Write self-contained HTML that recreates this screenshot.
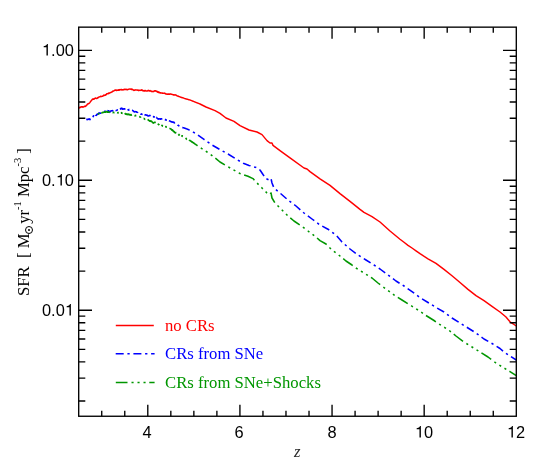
<!DOCTYPE html>
<html><head><meta charset="utf-8"><title>SFR</title>
<style>
html,body{margin:0;padding:0;background:#fff;}
body{width:550px;height:472px;overflow:hidden;position:relative;font-family:"Liberation Sans",sans-serif;}
svg{position:absolute;left:0;top:0;}
.t,.s{will-change:transform;}
.t{position:absolute;white-space:nowrap;color:#000;font-family:"Liberation Sans",sans-serif;font-size:16.4px;line-height:16px;}
.s{position:absolute;white-space:nowrap;font-family:"Liberation Serif",serif;font-size:16.7px;line-height:16px;}
</style></head><body>
<svg width="550" height="472" viewBox="0 0 550 472">
<rect x="0" y="0" width="550" height="472" fill="#fff"/>
<polyline fill="none" stroke="#ff0000" stroke-width="1.45" stroke-linejoin="round" points="78.60,108.34 78.80,107.80 79.00,107.83 79.20,107.96 79.40,107.70 79.60,107.56 79.80,107.17 80.00,107.35 80.20,107.42 80.40,107.41 80.60,107.21 80.80,106.96 81.00,106.86 81.20,106.62 81.40,106.72 81.60,107.03 81.80,106.87 82.00,106.72 82.20,107.11 82.40,106.71 82.60,107.14 82.80,106.94 83.00,106.99 83.20,106.98 83.40,106.88 83.60,106.97 83.80,106.75 84.00,106.65 84.20,106.55 84.41,106.32 84.62,106.33 84.83,106.47 85.03,106.34 85.24,106.32 85.45,106.41 85.66,106.03 85.87,105.90 86.08,105.52 86.28,105.49 86.49,105.66 86.70,105.24 86.91,104.92 87.12,104.76 87.33,104.22 87.53,104.14 87.74,103.92 87.95,103.67 88.16,103.95 88.37,103.85 88.58,103.56 88.78,103.51 88.99,103.19 89.20,103.27 89.41,103.05 89.62,102.90 89.83,102.64 90.04,102.24 90.26,101.89 90.47,101.53 90.68,101.31 90.89,101.20 91.10,100.87 91.29,100.58 91.48,100.60 91.67,100.24 91.86,99.94 92.05,99.69 92.24,99.52 92.43,99.18 92.62,99.09 92.81,99.19 93.00,98.98 93.20,99.01 93.40,99.20 93.60,98.98 93.80,99.17 94.00,98.97 94.20,99.08 94.40,98.82 94.60,98.40 94.80,98.71 95.00,98.40 95.20,98.08 95.40,98.31 95.60,98.24 95.80,98.06 96.00,98.18 96.20,98.37 96.40,98.51 96.60,98.50 96.80,98.53 97.00,98.54 97.20,98.06 97.40,98.16 97.60,98.14 97.80,97.59 98.00,97.92 98.20,97.78 98.40,97.39 98.60,97.29 98.80,97.05 99.00,97.10 99.20,97.01 99.40,96.93 99.60,96.71 99.80,96.82 100.00,96.63 100.20,96.73 100.40,96.56 100.60,96.30 100.80,96.29 101.00,96.49 101.20,96.40 101.40,96.52 101.60,96.55 101.80,96.43 102.00,96.18 102.20,96.14 102.40,96.28 102.60,95.94 102.80,96.13 103.00,95.85 103.20,95.83 103.40,95.53 103.60,95.53 103.80,95.09 104.00,95.43 104.20,95.50 104.40,95.26 104.60,95.22 104.80,95.29 105.00,95.27 105.20,95.08 105.40,95.14 105.60,94.67 105.80,94.91 106.00,94.41 106.20,94.34 106.40,94.50 106.60,94.03 106.80,93.79 107.00,93.96 107.20,93.74 107.40,93.64 107.60,93.63 107.80,93.55 108.00,93.45 108.20,93.37 108.40,93.66 108.60,93.28 108.80,93.45 109.00,93.05 109.20,93.26 109.40,92.94 109.60,92.99 109.80,93.08 110.00,92.85 110.20,92.55 110.40,92.65 110.60,92.60 110.80,92.60 111.00,92.28 111.20,92.28 111.40,92.23 111.60,91.89 111.80,91.99 112.00,91.78 112.20,91.85 112.40,91.66 112.60,91.54 112.80,91.12 113.00,91.33 113.20,91.18 113.40,90.96 113.60,90.89 113.80,90.65 114.00,90.71 114.20,90.64 114.40,90.50 114.60,90.21 114.80,90.38 115.00,90.23 115.20,90.01 115.40,90.15 115.60,89.97 115.80,90.21 116.00,90.36 116.20,90.47 116.40,90.26 116.60,90.02 116.80,90.20 117.00,90.37 117.20,90.15 117.40,90.26 117.60,90.15 117.80,90.21 118.00,90.03 118.20,89.85 118.40,89.99 118.60,90.28 118.80,89.85 119.00,89.65 119.20,90.20 119.40,89.96 119.60,89.81 119.80,89.76 120.00,89.57 120.20,89.86 120.40,89.75 120.60,89.62 120.80,89.62 121.00,89.59 121.20,89.77 121.40,89.62 121.60,89.87 121.80,89.58 122.00,89.64 122.20,89.69 122.40,89.71 122.60,89.80 122.80,89.98 123.00,89.95 123.20,89.58 123.40,89.85 123.60,89.64 123.80,89.79 124.00,89.49 124.20,89.34 124.40,89.52 124.60,89.50 124.80,89.35 125.00,89.42 125.20,89.44 125.40,89.48 125.60,89.20 125.80,89.29 126.00,89.47 126.20,89.52 126.40,89.43 126.60,89.27 126.80,89.73 127.00,89.51 127.20,89.43 127.40,89.82 127.60,89.77 127.80,89.69 128.00,89.59 128.20,89.48 128.40,89.20 128.60,89.27 128.80,89.24 129.00,89.21 129.20,89.12 129.40,88.94 129.60,89.02 129.80,89.09 130.00,89.13 130.20,89.08 130.40,88.99 130.60,89.12 130.80,89.38 131.00,89.35 131.20,89.44 131.40,89.11 131.60,89.33 131.80,89.52 132.00,89.13 132.20,89.27 132.40,89.20 132.60,89.72 132.80,89.67 133.00,89.70 133.20,89.91 133.40,90.00 133.60,90.25 133.80,90.40 134.00,90.48 134.20,90.33 134.40,90.33 134.60,90.27 134.80,90.25 135.00,89.76 135.20,90.00 135.40,89.90 135.60,89.85 135.80,89.85 136.00,89.92 136.20,90.05 136.40,90.06 136.60,90.10 136.80,89.98 137.00,90.00 137.20,90.12 137.40,90.00 137.60,90.19 137.80,90.17 138.00,90.05 138.20,90.05 138.40,90.28 138.60,90.28 138.80,90.68 139.00,90.48 139.20,90.24 139.40,90.26 139.60,90.17 139.80,90.19 140.00,90.23 140.20,90.26 140.40,90.16 140.60,90.33 140.80,90.28 141.00,90.43 141.20,89.94 141.40,90.19 141.60,90.01 141.80,89.81 142.00,89.96 142.20,89.89 142.40,90.24 142.60,90.75 142.80,90.67 143.00,90.86 143.20,90.89 143.40,90.63 143.60,91.03 143.80,90.95 144.00,90.96 144.20,90.72 144.40,90.55 144.60,91.09 144.80,90.93 145.00,90.77 145.20,90.61 145.40,90.76 145.60,90.61 145.80,90.97 146.00,90.91 146.20,90.92 146.40,90.94 146.60,91.04 146.80,91.12 147.00,90.97 147.20,91.09 147.40,90.91 147.60,90.80 147.80,90.62 148.00,90.83 148.20,90.77 148.40,90.61 148.60,90.30 148.80,90.55 149.00,90.79 149.20,90.69 149.40,90.91 149.60,90.71 149.80,90.93 150.00,90.93 150.20,90.59 150.40,90.95 150.60,91.05 150.80,91.08 151.00,91.11 151.20,91.54 151.40,91.37 151.60,91.58 151.80,91.29 152.00,91.21 152.20,91.44 152.40,91.58 152.60,91.44 152.80,91.63 153.00,91.68 153.20,91.52 153.40,91.48 153.60,91.28 153.80,91.43 154.00,91.43 154.20,91.15 154.40,90.91 154.60,90.78 154.80,90.74 155.00,90.91 155.20,90.73 155.40,91.10 155.60,90.78 155.80,91.00 156.00,91.24 156.20,91.36 156.40,91.11 156.60,91.38 156.80,91.73 157.00,91.65 157.20,91.29 157.40,91.74 157.60,92.14 157.80,91.76 158.00,92.15 158.20,91.82 158.40,92.42 158.60,92.17 158.80,92.49 159.00,92.59 159.20,92.16 159.40,92.43 159.60,92.77 159.80,92.54 160.00,92.78 160.20,92.67 160.40,93.01 160.60,92.77 160.80,92.73 161.00,92.96 161.20,93.05 161.40,92.91 161.60,93.02 161.80,93.09 162.00,93.00 162.20,92.96 162.40,93.23 162.60,93.16 162.80,93.07 163.00,93.35 163.20,93.29 163.40,93.25 163.60,93.13 163.80,93.19 164.00,93.29 164.20,93.27 164.40,93.10 164.60,93.19 164.80,93.44 165.00,93.51 165.20,93.67 165.40,93.52 165.60,93.84 165.80,94.02 166.00,94.01 166.20,93.96 166.40,94.09 166.60,93.88 166.80,94.02 167.00,94.35 167.20,93.98 167.40,94.07 167.60,94.33 167.80,94.15 168.00,94.14 168.20,94.06 168.40,94.34 168.60,94.08 168.80,94.09 169.00,93.91 169.20,94.16 169.40,94.08 169.60,94.14 169.80,94.24 170.00,94.10 170.20,93.97 170.40,93.99 170.60,94.10 170.80,94.22 171.00,94.03 171.20,94.17 171.40,94.23 171.60,94.35 171.80,94.25 172.00,94.41 172.20,94.50 172.40,94.48 172.60,94.54 172.80,94.67 173.00,94.73 173.20,94.86 173.40,94.72 173.60,94.98 173.80,94.92 174.00,94.91 174.20,94.93 174.40,94.84 174.60,94.90 174.80,94.97 175.00,94.67 175.20,94.79 175.40,94.97 175.60,94.91 175.80,95.11 176.00,95.07 176.20,95.28 176.40,95.21 176.60,95.46 176.80,95.69 177.00,95.84 177.20,95.98 177.40,95.92 177.60,95.93 177.80,96.03 178.00,95.99 178.20,96.27 178.40,96.32 178.60,96.25 178.80,96.49 179.00,96.38 179.20,96.60 179.40,96.61 179.60,96.65 179.80,96.88 180.00,96.88 180.20,97.10 180.40,97.05 180.60,97.17 180.80,97.19 181.00,97.29 181.20,97.30 181.40,97.44 181.60,97.49 181.80,97.52 182.00,97.56 182.20,97.74 182.40,97.66 182.60,97.74 182.80,97.86 183.00,97.89 183.20,97.88 183.40,98.01 183.60,98.06 183.80,98.12 184.00,98.25 184.20,98.27 184.40,98.38 184.60,98.42 184.80,98.61 185.00,98.61 185.20,98.71 185.40,98.75 185.60,98.81 185.80,98.83 186.00,98.91 186.20,98.93 186.40,98.89 186.60,99.03 186.80,99.03 187.00,99.17 187.20,99.21 187.40,99.26 187.60,99.26 187.80,99.34 188.00,99.44 188.20,99.53 188.40,99.56 188.60,99.70 188.80,99.71 189.00,99.74 189.20,99.77 189.40,99.83 189.60,99.89 189.80,99.93 190.00,99.99 190.20,100.09 190.40,100.12 190.60,100.23 190.80,100.33 191.00,100.37 191.20,100.46 191.40,100.54 191.60,100.61 191.80,100.72 192.00,100.79 192.20,100.89 192.40,100.96 192.60,101.04 192.80,101.13 193.00,101.20 193.20,101.27 193.40,101.37 193.60,101.44 193.80,101.52 194.00,101.58 194.20,101.67 194.40,101.75 194.60,101.83 194.80,101.91 195.00,102.00 195.20,102.08 195.40,102.16 195.60,102.24 195.80,102.32 196.00,102.40 196.20,102.48 196.40,102.56 196.60,102.64 196.80,102.72 197.00,102.80 197.20,102.88 197.40,102.96 197.60,103.04 197.80,103.12 198.00,103.20 198.20,103.28 198.40,103.36 198.60,103.44 198.80,103.52 199.00,103.60 199.20,103.68 199.40,103.76 199.60,103.84 199.80,103.92 200.00,104.00 206.00,107.00 215.00,110.60 220.00,113.40 226.00,118.00 234.00,121.40 240.00,125.60 249.00,130.00 257.00,132.00 262.00,134.60 267.00,140.60 270.00,143.00 272.00,143.00 273.00,145.40 280.00,150.60 290.00,157.80 304.00,168.00 307.00,169.00 310.00,171.60 320.00,178.80 330.00,185.40 340.00,193.60 350.00,201.40 360.00,209.40 364.00,212.40 372.00,216.60 380.00,222.00 390.00,231.00 400.00,239.20 404.00,242.30 408.00,245.30 412.00,248.00 416.00,250.80 420.00,253.70 428.00,258.80 436.00,263.40 444.00,269.40 452.00,275.70 460.00,282.50 468.00,289.40 476.00,295.60 484.00,300.70 492.00,306.30 500.00,312.00 506.00,317.00 510.00,321.80 516.30,326.00"/>
<polyline fill="none" stroke="#0000ff" stroke-width="1.55" stroke-dasharray="8 3.7 2.3 3.7" stroke-dashoffset="2" stroke-linejoin="round" points="86.40,119.24 86.61,119.38 86.81,119.28 87.02,119.74 87.22,119.57 87.43,119.54 87.63,119.24 87.84,119.41 88.04,119.25 88.25,119.30 88.45,119.11 88.66,119.19 88.86,119.01 89.06,119.14 89.27,119.37 89.47,118.91 89.68,118.97 89.89,119.30 90.09,119.39 90.30,119.25 90.50,119.45 90.71,119.29 90.92,119.12 91.12,119.02 91.33,118.46 91.54,118.44 91.75,118.13 91.96,117.76 92.17,117.72 92.38,117.20 92.58,116.87 92.79,116.98 93.00,116.33 93.19,116.56 93.39,116.24 93.59,115.77 93.78,115.49 93.97,115.06 94.17,115.42 94.37,115.23 94.56,115.80 94.75,115.33 94.95,115.67 95.15,115.28 95.34,115.72 95.53,116.04 95.73,115.66 95.93,115.42 96.12,115.30 96.31,115.26 96.51,115.17 96.71,114.81 96.90,114.34 97.11,114.52 97.32,114.46 97.53,114.53 97.74,114.04 97.95,113.90 98.16,113.64 98.37,113.70 98.58,113.72 98.79,113.13 99.00,113.21 99.20,113.01 99.40,113.05 99.60,113.11 99.80,113.20 100.00,112.97 100.20,113.04 100.40,113.29 100.60,113.08 100.80,113.05 101.00,112.94 101.20,112.79 101.40,112.83 101.60,112.78 101.80,112.63 102.00,112.74 102.20,112.51 102.40,112.58 102.60,112.37 102.80,112.42 103.00,112.13 103.20,112.08 103.40,111.92 103.60,112.23 103.80,112.02 104.00,111.88 104.20,111.85 104.40,111.52 104.60,111.57 104.80,111.38 105.00,111.06 105.20,111.27 105.40,111.19 105.60,111.59 105.80,111.26 106.00,111.31 106.20,111.59 106.40,111.46 106.60,111.27 106.80,111.54 107.00,111.30 107.20,111.61 107.40,111.08 107.60,111.04 107.80,110.63 108.00,110.88 108.20,111.21 108.40,110.80 108.60,110.76 108.80,111.07 109.00,111.07 109.20,111.22 109.40,111.73 109.60,111.75 109.80,111.79 110.00,111.90 110.20,111.36 110.40,111.07 110.60,111.38 110.80,111.19 111.00,111.01 111.20,110.86 111.40,110.87 111.60,110.72 111.80,110.70 112.00,110.76 112.20,110.66 112.40,110.64 112.60,110.93 112.80,110.68 113.00,111.05 113.20,110.84 113.40,110.72 113.60,110.87 113.80,110.58 114.00,110.61 114.20,110.56 114.40,110.59 114.60,110.67 114.80,110.88 115.00,110.60 115.20,110.32 115.40,110.33 115.60,110.14 115.80,110.53 116.00,110.53 116.20,110.42 116.40,110.39 116.60,110.37 116.80,110.30 117.00,110.28 117.20,110.16 117.40,109.92 117.60,110.18 117.80,110.19 118.00,109.66 118.20,109.88 118.40,109.73 118.60,109.99 118.80,109.86 119.00,110.13 119.20,110.08 119.40,109.82 119.60,109.81 119.80,109.59 120.00,109.58 120.20,109.14 120.40,109.17 120.60,108.67 120.80,108.87 121.00,108.58 121.20,108.12 121.40,108.28 121.60,108.53 121.80,108.66 122.00,108.25 122.20,108.85 122.40,109.16 122.60,108.95 122.80,108.91 123.00,109.29 123.20,109.09 123.40,109.05 123.60,109.08 123.80,108.75 124.00,108.80 124.20,108.76 124.40,108.79 124.60,108.95 124.80,108.86 125.00,109.31 125.20,109.16 125.40,109.24 125.60,108.86 125.80,109.12 126.00,109.15 126.20,109.32 126.40,109.48 126.60,109.39 126.80,109.49 127.00,109.91 127.20,110.23 127.40,110.32 127.60,110.05 127.80,109.90 128.00,110.00 128.20,109.98 128.40,110.12 128.60,109.74 128.80,109.59 129.00,109.81 129.20,109.50 129.40,109.58 129.60,109.91 129.80,109.90 130.00,109.87 130.20,110.10 130.40,110.18 130.60,110.32 130.80,110.34 131.00,110.55 131.20,110.39 131.40,110.34 131.60,110.60 131.80,110.27 132.00,110.53 132.20,110.50 132.40,110.35 132.60,110.59 132.80,110.48 133.00,110.92 133.20,110.88 133.40,111.07 133.60,111.41 133.80,111.41 134.00,111.72 134.20,111.75 134.40,111.85 134.60,111.74 134.80,111.84 135.00,111.54 135.20,111.59 135.40,111.75 135.60,111.82 135.80,111.77 136.00,111.68 136.20,111.66 136.40,111.75 136.60,112.15 136.80,111.88 137.00,112.06 137.20,112.27 137.40,112.46 137.60,112.50 137.80,113.16 138.00,113.08 138.20,113.33 138.40,113.63 138.60,113.68 138.80,114.06 139.00,113.93 139.20,113.81 139.40,113.79 139.60,114.01 139.80,113.96 140.00,113.92 140.20,113.87 140.40,113.90 140.60,114.10 140.80,114.19 141.00,114.01 141.20,114.13 141.40,113.82 141.60,113.97 141.80,114.08 142.00,114.08 142.20,114.41 142.40,114.04 142.60,114.52 142.80,114.63 143.00,114.94 143.20,114.57 143.40,114.78 143.60,115.00 143.80,114.90 144.00,114.58 144.20,114.66 144.40,114.52 144.60,114.70 144.80,114.78 145.00,114.87 145.20,114.73 145.40,114.85 145.60,114.94 145.80,114.71 146.00,115.01 146.20,115.13 146.40,115.01 146.60,114.95 146.80,115.19 147.00,115.30 147.20,115.50 147.40,115.21 147.60,115.55 147.80,116.04 148.00,116.03 148.20,115.91 148.40,116.00 148.60,115.95 148.80,115.78 149.00,115.81 149.20,115.83 149.40,115.59 149.60,115.72 149.80,115.72 150.00,115.42 150.20,115.70 150.40,115.67 150.60,116.07 150.80,116.24 151.00,116.27 151.20,116.51 151.40,116.73 151.60,116.90 151.80,116.54 152.00,116.67 152.20,116.46 152.40,116.36 152.60,116.79 152.80,116.71 153.00,116.76 153.20,116.65 153.40,116.57 153.60,116.80 153.80,116.81 154.00,117.23 154.20,116.77 154.40,117.33 154.60,117.30 154.80,117.62 155.00,117.70 155.20,117.40 155.40,117.72 155.60,117.67 155.80,117.25 156.00,117.79 156.20,117.31 156.40,117.28 156.60,117.81 156.80,117.71 157.00,118.02 157.20,118.14 157.40,118.15 157.60,118.73 157.80,118.88 158.00,118.82 158.20,119.07 158.40,118.84 158.60,118.90 158.80,118.83 159.00,118.69 159.20,118.86 159.40,118.78 159.60,119.02 159.80,118.96 160.00,118.83 160.20,119.11 160.40,118.95 160.60,119.17 160.80,118.80 161.00,118.79 161.20,118.71 161.40,118.85 161.60,118.77 161.80,118.79 162.00,119.05 162.20,118.88 162.40,118.64 162.60,118.78 162.80,118.66 163.00,118.74 163.20,118.84 163.40,118.97 163.60,119.15 163.80,119.29 164.00,119.22 164.20,119.17 164.40,119.38 164.60,119.42 164.80,119.48 165.00,119.40 165.20,119.64 165.40,119.44 165.60,120.00 165.80,119.99 166.00,120.06 166.20,119.79 166.40,119.98 166.60,120.15 166.80,119.91 167.00,119.78 167.20,119.93 167.40,119.60 167.60,120.10 167.80,120.12 168.00,119.92 168.20,120.34 168.40,120.50 168.60,120.52 168.80,120.61 169.00,120.83 169.20,120.76 169.40,121.04 169.60,120.91 169.80,120.95 170.00,121.10 170.20,121.11 170.40,121.42 170.60,121.36 170.80,121.62 171.00,121.65 171.20,121.87 171.40,121.93 171.60,121.66 171.80,121.75 172.00,121.80 172.20,121.78 172.40,122.14 172.60,122.14 172.80,122.02 173.00,121.94 173.20,122.11 173.40,122.26 173.60,122.51 173.80,122.24 174.00,122.63 174.20,122.41 174.40,122.74 174.60,122.68 174.80,122.88 175.00,122.78 175.20,123.29 175.40,123.40 175.60,123.46 175.80,123.46 176.00,123.80 176.20,123.91 176.40,123.88 176.60,124.20 176.80,124.25 177.00,124.27 177.20,124.42 177.40,124.44 177.60,124.91 177.80,125.11 178.00,125.17 178.20,125.24 178.40,125.43 178.60,125.67 178.80,125.79 179.00,126.00 179.20,126.02 179.40,126.29 179.60,126.43 179.80,126.41 180.00,126.51 180.20,126.39 180.40,126.67 180.60,126.81 180.80,126.81 181.00,127.07 181.20,127.05 181.40,127.12 181.60,127.36 181.80,127.43 182.00,127.36 182.20,127.49 182.40,127.49 182.60,127.59 182.80,127.66 183.00,127.66 183.20,127.74 183.40,127.82 183.60,127.79 183.80,127.80 184.00,127.88 184.20,128.04 184.40,128.14 184.60,128.11 184.80,128.20 185.00,128.21 185.20,128.28 185.40,128.44 185.60,128.46 185.80,128.57 186.00,128.65 186.20,128.78 186.40,128.82 186.60,128.89 186.80,128.97 187.00,129.02 187.20,129.14 187.40,129.24 187.60,129.19 187.80,129.33 188.00,129.34 188.20,129.45 188.40,129.57 188.60,129.67 188.80,129.78 189.00,129.88 189.20,130.03 189.40,130.08 189.60,130.20 189.80,130.30 190.00,130.42 190.20,130.52 190.40,130.64 190.60,130.75 190.80,130.87 191.00,130.97 191.20,131.07 191.40,131.18 191.60,131.29 191.80,131.39 192.00,131.50 192.20,131.60 192.40,131.71 192.60,131.81 192.80,131.92 193.00,132.03 193.20,132.13 193.40,132.23 193.60,132.34 193.80,132.44 194.00,132.55 194.20,132.66 194.40,132.76 194.60,132.87 194.80,132.97 195.00,133.07 195.20,133.18 195.40,133.28 195.60,133.39 195.80,133.50 196.00,133.60 204.00,139.40 212.00,145.00 220.00,149.60 228.00,154.00 236.00,159.00 244.00,163.60 249.00,165.40 257.00,167.80 260.00,170.00 263.00,174.50 266.00,178.60 269.00,180.00 271.00,178.60 272.00,183.00 274.00,188.00 280.00,193.00 288.00,200.00 296.00,206.00 304.00,213.00 312.00,219.00 320.00,225.00 328.00,229.20 336.00,235.00 342.00,242.00 350.00,249.00 358.00,255.00 366.00,260.00 374.00,265.00 380.00,269.00 388.00,275.00 396.00,281.00 404.00,286.00 412.00,291.60 420.00,297.50 428.00,302.50 436.00,307.40 444.00,312.00 452.00,318.00 460.00,323.00 468.00,328.00 476.00,333.00 484.00,339.00 492.00,343.50 500.00,348.50 504.00,352.00 510.00,356.00 516.30,360.00"/>
<polyline fill="none" stroke="#009600" stroke-width="1.55" stroke-dasharray="11.7 4 2.1 3.9 2.1 3.9 2.1 3.7" stroke-dashoffset="27.7" stroke-linejoin="round" points="98.00,113.89 98.20,113.58 98.40,113.96 98.60,113.66 98.80,113.70 99.00,113.73 99.20,113.66 99.40,113.76 99.60,113.69 99.80,113.09 100.00,113.33 100.20,113.66 100.40,113.17 100.60,113.32 100.80,113.03 101.00,112.86 101.20,113.17 101.40,113.03 101.60,112.75 101.80,112.91 102.00,112.46 102.20,112.51 102.40,112.75 102.60,112.53 102.80,112.28 103.00,112.50 103.20,112.42 103.40,112.54 103.60,112.42 103.80,112.16 104.00,112.09 104.20,112.12 104.40,112.07 104.60,112.34 104.80,112.33 105.00,112.25 105.20,112.11 105.40,111.96 105.60,112.13 105.80,111.86 106.00,111.93 106.20,111.54 106.40,111.73 106.60,112.03 106.80,111.54 107.00,111.52 107.20,111.83 107.40,112.23 107.60,112.26 107.80,112.00 108.00,112.04 108.20,112.18 108.40,112.10 108.60,112.30 108.80,112.27 109.00,112.09 109.20,112.28 109.40,112.37 109.60,112.29 109.80,112.27 110.00,112.67 110.20,112.89 110.40,112.53 110.60,112.54 110.80,112.75 111.00,112.65 111.20,112.59 111.40,113.02 111.60,112.62 111.80,112.63 112.00,112.59 112.20,112.50 112.40,112.57 112.60,112.67 112.80,112.78 113.00,112.59 113.20,112.43 113.40,112.23 113.60,112.48 113.80,112.36 114.00,112.54 114.20,112.77 114.40,112.67 114.60,112.62 114.80,112.56 115.00,112.64 115.20,112.62 115.40,112.38 115.60,112.41 115.80,112.61 116.00,112.10 116.20,112.28 116.40,112.09 116.60,112.67 116.80,112.57 117.00,112.63 117.20,112.69 117.40,112.74 117.60,112.82 117.80,112.55 118.00,112.97 118.20,112.98 118.40,112.56 118.60,112.91 118.80,112.83 119.00,112.38 119.20,112.52 119.40,112.50 119.60,112.41 119.80,112.62 120.00,112.37 120.20,112.61 120.40,112.73 120.60,112.87 120.80,112.80 121.00,112.79 121.20,113.01 121.40,112.64 121.60,113.29 121.80,113.18 122.00,113.12 122.20,113.41 122.40,113.28 122.60,113.38 122.80,113.83 123.00,113.65 123.20,113.82 123.40,113.43 123.60,113.25 123.80,113.22 124.00,113.61 124.20,113.20 124.40,112.98 124.60,113.07 124.80,113.20 125.00,113.53 125.20,113.79 125.40,114.07 125.60,114.22 125.80,114.22 126.00,114.20 126.20,114.18 126.40,113.93 126.60,114.18 126.80,114.46 127.00,114.33 127.20,114.48 127.40,114.18 127.60,114.60 127.80,114.50 128.00,114.46 128.20,114.53 128.40,114.05 128.60,114.36 128.80,114.30 129.00,114.80 129.20,114.44 129.40,114.44 129.60,114.75 129.80,114.46 130.00,114.97 130.20,114.64 130.40,114.82 130.60,114.72 130.80,115.09 131.00,114.58 131.20,115.14 131.40,114.89 131.60,115.08 131.80,114.89 132.00,115.18 132.20,115.20 132.40,115.30 132.60,115.30 132.80,115.41 133.00,115.53 133.20,115.32 133.40,115.23 133.60,115.26 133.80,115.67 134.00,115.52 134.20,115.76 134.40,115.55 134.60,115.34 134.80,115.67 135.00,115.83 135.20,115.47 135.40,115.35 135.60,115.39 135.80,115.77 136.00,115.56 136.20,115.65 136.40,115.91 136.60,115.84 136.80,115.92 137.00,115.86 137.20,115.90 137.40,116.12 137.60,116.19 137.80,116.34 138.00,116.22 138.20,116.44 138.40,116.54 138.60,116.54 138.80,116.70 139.00,116.84 139.20,116.75 139.40,116.79 139.60,116.66 139.80,116.95 140.00,116.93 140.20,116.95 140.40,116.91 140.60,117.28 140.80,117.75 141.00,117.48 141.20,117.52 141.40,117.70 141.60,117.62 141.80,117.85 142.00,117.83 142.20,117.87 142.40,118.07 142.60,118.11 142.80,118.09 143.00,118.01 143.20,118.25 143.40,118.04 143.60,118.42 143.80,118.37 144.00,118.58 144.20,118.87 144.40,118.97 144.60,118.78 144.80,119.12 145.00,119.37 145.20,119.26 145.40,118.97 145.60,119.35 145.80,119.31 146.00,119.35 146.20,119.26 146.40,119.25 146.60,119.24 146.80,119.43 147.00,119.39 147.20,119.52 147.40,119.48 147.60,119.88 147.80,119.76 148.00,120.06 148.20,119.66 148.40,120.21 148.60,120.25 148.80,120.28 149.00,120.70 149.20,120.64 149.40,120.64 149.60,120.67 149.80,121.20 150.00,121.10 150.20,121.13 150.40,120.92 150.60,121.34 150.80,121.25 151.00,121.15 151.20,121.23 151.40,121.00 151.60,121.46 151.80,121.40 152.00,122.00 152.20,121.99 152.40,122.17 152.60,122.56 152.80,122.75 153.00,122.72 153.20,123.13 153.40,123.14 153.60,122.87 153.80,122.55 154.00,122.63 154.20,122.39 154.40,122.34 154.60,122.34 154.80,122.20 155.00,122.32 155.20,122.20 155.40,122.70 155.60,122.74 155.80,122.84 156.00,123.09 156.20,123.55 156.40,123.11 156.60,123.10 156.80,123.57 157.00,123.34 157.20,123.79 157.40,123.44 157.60,123.60 157.80,123.91 158.00,124.00 158.20,124.08 158.40,124.25 158.60,124.31 158.80,124.42 159.00,124.63 159.20,125.07 159.40,125.13 159.60,125.17 159.80,125.16 160.00,125.19 160.20,125.19 160.40,124.88 160.60,124.83 160.80,124.84 161.00,125.18 161.20,124.69 161.40,125.08 161.60,124.77 161.80,125.41 162.00,125.20 162.20,125.46 162.40,125.74 162.60,126.03 162.80,126.30 163.00,126.34 163.20,126.31 163.40,126.18 163.60,126.72 163.80,126.32 164.00,126.36 164.20,126.60 164.40,126.41 164.60,126.43 164.80,126.47 165.00,126.84 165.20,126.40 165.40,126.51 165.60,126.80 165.80,126.49 166.00,126.81 166.20,127.20 166.40,126.96 166.60,127.12 166.80,127.26 167.00,126.97 167.20,127.28 167.40,127.16 167.60,127.12 167.80,127.39 168.00,127.55 168.20,127.60 168.40,127.68 168.60,128.09 168.80,128.24 169.00,128.25 169.20,128.32 169.40,128.21 169.60,128.31 169.80,128.33 170.00,128.62 170.20,128.81 170.40,128.88 170.60,128.77 170.80,128.77 171.00,129.04 171.20,129.21 171.40,129.47 171.60,129.80 171.80,129.59 172.00,130.27 172.20,129.69 172.40,129.92 172.60,130.12 172.80,130.36 173.00,130.65 173.20,131.22 173.40,130.87 173.60,131.34 173.80,131.23 174.00,131.47 174.20,131.46 174.40,132.24 174.60,132.02 174.80,132.11 175.00,132.82 175.20,132.62 175.40,132.84 175.60,132.92 175.80,132.75 176.00,132.59 176.20,132.77 176.40,133.04 176.60,132.78 176.80,132.62 177.00,132.79 177.20,132.38 177.40,133.08 177.60,133.10 177.80,133.23 178.00,133.78 178.20,134.03 178.40,134.15 178.60,134.53 178.80,134.94 179.00,135.12 179.20,134.81 179.40,134.58 179.60,135.52 179.80,135.21 180.00,135.27 180.20,135.50 180.40,135.43 180.60,135.73 180.80,135.36 181.00,135.59 181.20,135.45 181.40,135.99 181.60,135.72 181.80,136.00 182.00,136.10 182.20,135.76 182.40,136.07 182.60,136.37 182.80,136.38 183.00,136.48 183.20,136.79 183.40,136.93 183.60,136.79 183.80,136.94 184.00,137.15 184.20,137.17 184.40,137.25 184.60,137.12 184.80,137.73 185.00,137.47 185.20,137.65 185.40,137.80 185.60,138.03 185.80,138.26 186.00,138.29 186.20,138.72 186.40,139.07 186.60,139.14 186.80,139.41 187.00,139.43 187.20,139.42 187.40,139.81 187.60,139.42 187.80,139.68 188.00,139.87 188.20,139.80 188.40,139.63 188.60,139.73 188.80,140.32 189.00,139.97 189.20,140.25 189.40,140.46 189.60,140.48 189.80,140.25 190.00,140.34 190.20,140.79 190.40,140.80 190.60,141.01 190.80,141.20 191.00,141.34 191.20,141.22 191.40,141.30 191.60,141.83 191.80,141.72 192.00,141.77 192.20,141.80 192.40,142.29 192.60,142.19 192.80,142.36 193.00,142.71 193.20,142.80 193.40,142.97 193.60,142.89 193.80,142.86 194.00,143.21 194.20,143.42 194.40,143.52 194.60,143.81 194.80,143.89 195.00,143.89 195.20,144.16 195.40,144.22 195.60,144.32 195.80,144.57 196.00,144.49 196.20,144.81 196.40,144.94 196.60,144.92 196.80,145.21 197.00,145.39 197.20,145.51 197.40,145.70 197.60,145.85 197.80,146.04 198.00,146.16 198.20,146.21 198.40,146.41 198.60,146.50 198.80,146.57 199.00,146.73 199.20,146.87 199.40,146.95 199.60,147.10 199.80,147.25 200.00,147.40 207.00,152.00 214.00,157.00 220.00,162.00 226.00,165.60 233.00,169.60 240.00,173.50 248.00,176.30 253.00,178.60 257.00,183.00 262.00,188.00 267.00,193.00 270.00,194.40 271.00,193.00 272.00,198.00 275.00,203.00 280.00,208.00 288.00,216.00 294.00,221.00 300.00,225.00 308.00,231.00 316.00,237.00 320.00,240.60 326.00,244.00 332.00,250.00 340.00,256.00 346.00,261.00 352.00,265.00 356.00,268.00 364.00,273.00 372.00,278.00 378.00,283.00 386.00,289.00 394.00,295.00 402.00,300.00 410.00,305.00 418.00,310.00 426.00,315.50 434.00,320.50 442.00,326.00 448.00,329.50 456.00,336.00 464.00,342.00 472.00,347.00 480.00,352.00 488.00,357.00 496.00,363.00 504.00,368.00 510.00,371.60 516.30,375.60"/>
<line x1="115.8" y1="325.5" x2="153.8" y2="325.5" stroke="#ff0000" stroke-width="1.45"/>
<line x1="115.7" y1="353.8" x2="154.6" y2="353.8" stroke="#0000ff" stroke-width="1.55" stroke-dasharray="8 3.7 2.3 3.7"/>
<line x1="115.8" y1="382.4" x2="154.6" y2="382.4" stroke="#009600" stroke-width="1.55" stroke-dasharray="11.7 4 2.1 3.9 2.1 3.9 2.1 3.7"/>
<path d="M101.73,27.15v5.6M101.73,416.25v-5.6 M124.76,27.15v5.6M124.76,416.25v-5.6 M147.79,27.15v11.6M147.79,416.25v-11.6 M170.83,27.15v5.6M170.83,416.25v-5.6 M193.86,27.15v5.6M193.86,416.25v-5.6 M216.89,27.15v5.6M216.89,416.25v-5.6 M239.92,27.15v11.6M239.92,416.25v-11.6 M262.95,27.15v5.6M262.95,416.25v-5.6 M285.98,27.15v5.6M285.98,416.25v-5.6 M309.02,27.15v5.6M309.02,416.25v-5.6 M332.05,27.15v11.6M332.05,416.25v-11.6 M355.08,27.15v5.6M355.08,416.25v-5.6 M378.11,27.15v5.6M378.11,416.25v-5.6 M401.14,27.15v5.6M401.14,416.25v-5.6 M424.17,27.15v11.6M424.17,416.25v-11.6 M447.21,27.15v5.6M447.21,416.25v-5.6 M470.24,27.15v5.6M470.24,416.25v-5.6 M493.27,27.15v5.6M493.27,416.25v-5.6 M78.7,50.30h13.3M516.3,50.30h-13.3 M78.7,180.25h13.3M516.3,180.25h-13.3 M78.7,141.13h6.6M516.3,141.13h-6.6 M78.7,118.25h6.6M516.3,118.25h-6.6 M78.7,102.01h6.6M516.3,102.01h-6.6 M78.7,89.42h6.6M516.3,89.42h-6.6 M78.7,79.13h6.6M516.3,79.13h-6.6 M78.7,70.43h6.6M516.3,70.43h-6.6 M78.7,62.89h6.6M516.3,62.89h-6.6 M78.7,56.25h6.6M516.3,56.25h-6.6 M78.7,310.20h13.3M516.3,310.20h-13.3 M78.7,271.08h6.6M516.3,271.08h-6.6 M78.7,248.20h6.6M516.3,248.20h-6.6 M78.7,231.96h6.6M516.3,231.96h-6.6 M78.7,219.37h6.6M516.3,219.37h-6.6 M78.7,209.08h6.6M516.3,209.08h-6.6 M78.7,200.38h6.6M516.3,200.38h-6.6 M78.7,192.84h6.6M516.3,192.84h-6.6 M78.7,186.20h6.6M516.3,186.20h-6.6 M78.7,401.03h6.6M516.3,401.03h-6.6 M78.7,378.15h6.6M516.3,378.15h-6.6 M78.7,361.91h6.6M516.3,361.91h-6.6 M78.7,349.32h6.6M516.3,349.32h-6.6 M78.7,339.03h6.6M516.3,339.03h-6.6 M78.7,330.33h6.6M516.3,330.33h-6.6 M78.7,322.79h6.6M516.3,322.79h-6.6 M78.7,316.15h6.6M516.3,316.15h-6.6" stroke="#000" stroke-width="1.35" fill="none"/>
<rect x="78.7" y="27.15" width="437.60" height="389.10" fill="none" stroke="#000" stroke-width="1.35"/>
</svg>
<div class="t" style="right:475.8px;top:42px;"><svg style="position:static;display:inline-block;vertical-align:baseline;width:0.556em;height:0.703em;overflow:visible" viewBox="0 0 556 703"><path d="M359 703L359 0L302 0C287 55 268 104 101 136L101 199L273 199L273 703Z" fill="#000"/></svg>.00</div>
<div class="t" style="right:475.8px;top:172px;">0.<svg style="position:static;display:inline-block;vertical-align:baseline;width:0.556em;height:0.703em;overflow:visible" viewBox="0 0 556 703"><path d="M359 703L359 0L302 0C287 55 268 104 101 136L101 199L273 199L273 703Z" fill="#000"/></svg>0</div>
<div class="t" style="right:475.8px;top:302px;">0.0<svg style="position:static;display:inline-block;vertical-align:baseline;width:0.556em;height:0.703em;overflow:visible" viewBox="0 0 556 703"><path d="M359 703L359 0L302 0C287 55 268 104 101 136L101 199L273 199L273 703Z" fill="#000"/></svg></div>
<div class="t" style="left:117.3px;width:60px;text-align:center;top:423.7px;">4</div>
<div class="t" style="left:209.4px;width:60px;text-align:center;top:423.7px;">6</div>
<div class="t" style="left:301.5px;width:60px;text-align:center;top:423.7px;">8</div>
<div class="t" style="left:393.7px;width:60px;text-align:center;top:423.7px;"><svg style="position:static;display:inline-block;vertical-align:baseline;width:0.556em;height:0.703em;overflow:visible" viewBox="0 0 556 703"><path d="M359 703L359 0L302 0C287 55 268 104 101 136L101 199L273 199L273 703Z" fill="#000"/></svg>0</div>
<div class="t" style="left:486.2px;width:60px;text-align:center;top:423.7px;"><svg style="position:static;display:inline-block;vertical-align:baseline;width:0.556em;height:0.703em;overflow:visible" viewBox="0 0 556 703"><path d="M359 703L359 0L302 0C287 55 268 104 101 136L101 199L273 199L273 703Z" fill="#000"/></svg>2</div>
<div class="s" style="left:294px;top:443.5px;font-style:italic;font-size:16.7px;line-height:16px;color:#2a2a2a;">z</div>
<div class="s" style="left:164.9px;top:317.8px;color:#ff0000;">no CRs</div>
<div class="s" style="left:164.9px;top:345.6px;color:#0000ff;">CRs from SNe</div>
<div class="s" style="left:164.9px;top:374.9px;color:#009600;">CRs from SNe+Shocks</div>
<div class="s" id="yl" style="left:20.6px;top:296.2px;transform-origin:0 0;transform:rotate(-90deg);color:#000;height:0;line-height:0;">SFR&nbsp;&nbsp;[ M<span style="display:inline-block;width:6.3px;height:6.3px;border:1.1px solid #000;border-radius:50%;position:relative;top:3.95px;margin:0 2.0px 0 -0.75px;box-sizing:content-box;"><span style="position:absolute;left:2.0px;top:2.0px;width:2.3px;height:2.3px;background:#000;border-radius:50%;"></span></span>yr<span style="font-size:10.4px;position:relative;top:-8px;">-1</span> Mpc<span style="font-size:10.4px;position:relative;top:-8px;">-3</span> ]</div>
</body></html>
